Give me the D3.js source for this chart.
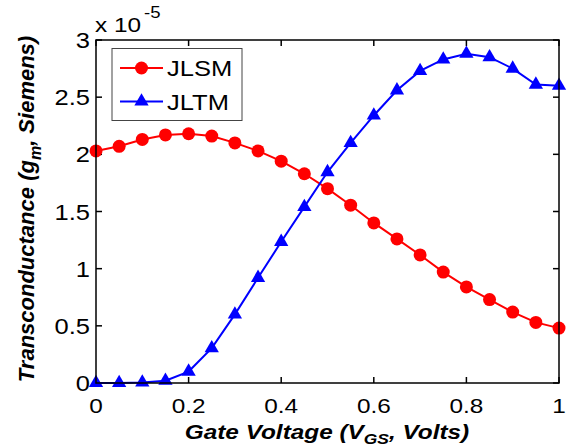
<!DOCTYPE html>
<html>
<head>
<meta charset="utf-8">
<script src="https://cdn.jsdelivr.net/npm/d3@7"></script>
<style>
  html, body { margin: 0; padding: 0; background: #fff; }
  svg { display: block; font-family: "Liberation Sans", Arial, Helvetica, sans-serif; }
</style>
</head>
<body>
<svg id="chart" width="569" height="448"></svg>
<script>
const gateVoltage = [0, 0.05, 0.1, 0.15, 0.2, 0.25, 0.3, 0.35, 0.4, 0.45, 0.5, 0.55, 0.6, 0.65, 0.7, 0.75, 0.8, 0.85, 0.9, 0.95, 1.0];
const jlsm = [2.03, 2.07, 2.13, 2.17, 2.18, 2.16, 2.10, 2.03, 1.94, 1.83, 1.70, 1.555, 1.40, 1.26, 1.12, 0.97, 0.84, 0.73, 0.62, 0.53, 0.48];
const jltm = [0, 0, 0.005, 0.02, 0.10, 0.305, 0.60, 0.92, 1.235, 1.54, 1.845, 2.10, 2.34, 2.56, 2.73, 2.83, 2.88, 2.85, 2.75, 2.61, 2.60];
const seriesNames = ["JLSM", "JLTM"];
const seriesColors = ["#ff0000", "#0000ff"];
const xTicks = [0, 0.2, 0.4, 0.6, 0.8, 1];
const yTicks = [0, 0.5, 1, 1.5, 2, 2.5, 3];
const xTickLabels = ["0", "0.2", "0.4", "0.6", "0.8", "1"];
const yTickLabels = ["0", "0.5", "1", "1.5", "2", "2.5", "3"];

const svg = d3.select("#chart");
const L = 96, R = 559, T = 40, B = 383;
const sx = 1.16; // horizontal text stretch
const x = d3.scaleLinear().domain([0, 1]).range([L, R]);
const y = d3.scaleLinear().domain([0, 3]).range([B, T]);

function stext(g, tx, ty, anchor, size, str) {
  const t = g.append("text")
    .attr("transform", `translate(${tx},${ty}) scale(${sx},1)`)
    .attr("text-anchor", anchor)
    .attr("font-size", size)
    .attr("fill", "#000");
  if (str !== null) t.text(str);
  return t;
}

// ticks (inward, mirrored)
const tl = 6;
const tickG = svg.append("g").attr("stroke", "#000").attr("stroke-width", 1.5);
xTicks.forEach(v => {
  tickG.append("line").attr("x1", x(v)).attr("x2", x(v)).attr("y1", B).attr("y2", B - tl);
  tickG.append("line").attr("x1", x(v)).attr("x2", x(v)).attr("y1", T).attr("y2", T + tl);
});
yTicks.forEach(v => {
  tickG.append("line").attr("x1", L).attr("x2", L + tl).attr("y1", y(v)).attr("y2", y(v));
  tickG.append("line").attr("x1", R).attr("x2", R - tl).attr("y1", y(v)).attr("y2", y(v));
});

// tick labels
const lab = svg.append("g");
xTicks.forEach((v, i) => stext(lab, x(v), 413, "middle", 21, xTickLabels[i]));
yTicks.forEach((v, i) => stext(lab, 90, y(v) + 8, "end", 22, yTickLabels[i]));

// exponent
stext(lab, 95, 32, "start", 21, "x 10");
stext(lab, 144, 18, "start", 16, "-5");

// data
const data = seriesNames.map((n, i) => ({
  name: n, color: seriesColors[i],
  values: gateVoltage.map((g, j) => ({ x: g, y: (i === 0 ? jlsm : jltm)[j] }))
}));
const line = d3.line().x(d => x(d.x)).y(d => y(d.y));
const tri = d3.symbol().type(d3.symbolTriangle).size(88);

data.forEach((s, i) => {
  const g = svg.append("g");
  g.append("path").attr("d", line(s.values)).attr("fill", "none")
    .attr("stroke", s.color).attr("stroke-width", 2);
  if (i === 0) {
    g.selectAll("circle").data(s.values).join("circle")
      .attr("cx", d => x(d.x)).attr("cy", d => y(d.y)).attr("r", 6.5)
      .attr("fill", s.color);
  } else {
    g.selectAll("path.m").data(s.values).join("path").attr("class", "m")
      .attr("d", tri).attr("transform", d => `translate(${x(d.x)},${y(d.y)})`)
      .attr("fill", s.color);
  }
});

// axis frame
svg.append("rect").attr("x", L).attr("y", T).attr("width", R - L).attr("height", B - T)
  .attr("fill", "none").attr("stroke", "#000").attr("stroke-width", 1.5);

// legend
const lg = svg.append("g");
lg.append("rect").attr("x", 112).attr("y", 48.5).attr("width", 130).attr("height", 72)
  .attr("fill", "#fff").attr("stroke", "#444").attr("stroke-width", 1);
const rows = [68, 101.5];
data.forEach((s, i) => {
  lg.append("line").attr("x1", 120).attr("x2", 163).attr("y1", rows[i]).attr("y2", rows[i])
    .attr("stroke", s.color).attr("stroke-width", 2);
  if (i === 0) {
    lg.append("circle").attr("cx", 141.5).attr("cy", rows[i]).attr("r", 6.5).attr("fill", s.color);
  } else {
    lg.append("path").attr("d", tri).attr("transform", `translate(141.5,${rows[i]})`).attr("fill", s.color);
  }
  stext(lg, 167, rows[i] + 8, "start", 22, s.name);
});

// axis titles
const xt = stext(svg, 327, 439, "middle", 21, null)
  .attr("font-weight", "bold").attr("font-style", "italic");
xt.append("tspan").text("Gate Voltage (V");
xt.append("tspan").attr("font-size", 15).attr("dy", 5).text("GS");
xt.append("tspan").attr("dy", -5).text(", Volts)");

const yt = svg.append("text")
  .attr("transform", "translate(34,209) rotate(-90)")
  .attr("text-anchor", "middle").attr("font-size", 22)
  .attr("font-weight", "bold").attr("font-style", "italic");
yt.append("tspan").text("Transconductance (g");
yt.append("tspan").attr("font-size", 16).attr("dy", 7).text("m");
yt.append("tspan").attr("dy", -7).text(", Siemens)");
</script>
</body>
</html>
